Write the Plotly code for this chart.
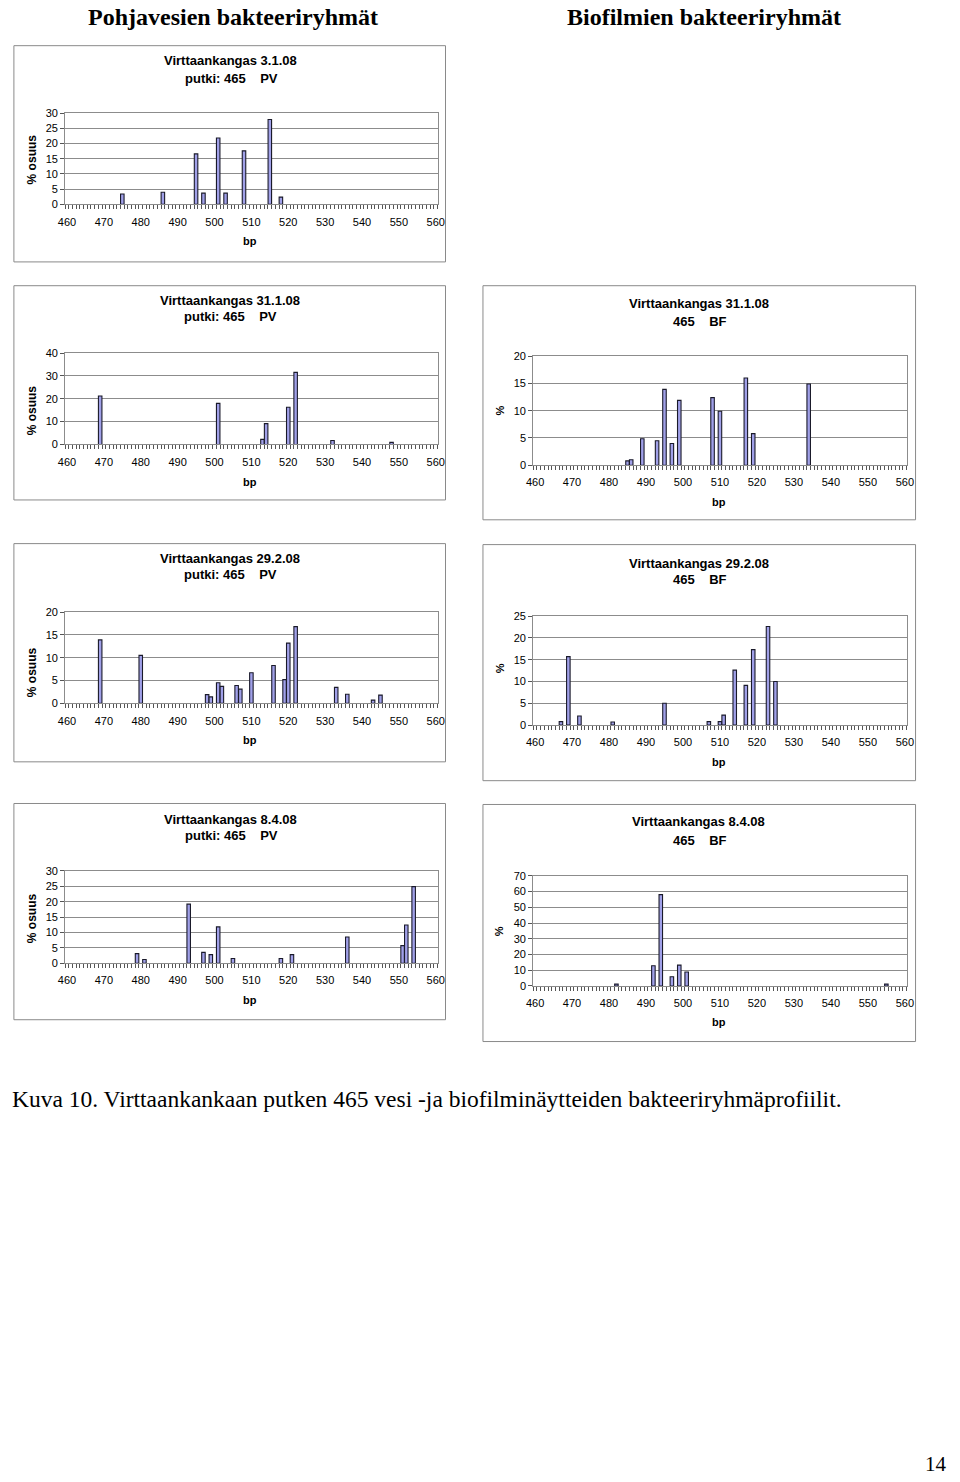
import plotly.graph_objects as go

# ---------------- data ----------------
bp_ticks = [460, 470, 480, 490, 500, 510, 520, 530, 540, 550, 560]

pv_0301_bp = [475, 486, 495, 497, 501, 503, 508, 515, 518]
pv_0301_val = [3.4, 4.0, 16.6, 3.7, 21.8, 3.7, 17.6, 27.9, 2.4]

pv_3101_bp = [469, 501, 513, 514, 520, 522, 532, 548]
pv_3101_val = [21.2, 18.0, 2.2, 9.1, 16.3, 31.6, 1.7, 0.9]

bf_3101_bp = [485, 486, 489, 493, 495, 497, 499, 508, 510, 517, 519, 534]
bf_3101_val = [0.8, 1.0, 4.85, 4.5, 13.9, 4.0, 11.9, 12.4, 9.9, 16.0, 5.8, 14.9]

pv_2902_bp = [469, 480, 498, 499, 501, 502, 506, 507, 510, 516, 519, 520, 522, 533, 536, 543, 545]
pv_2902_val = [13.9, 10.5, 1.9, 1.4, 4.5, 3.7, 3.9, 3.1, 6.7, 8.3, 5.2, 13.2, 16.8, 3.5, 2.0, 0.7, 1.8]

bf_2902_bp = [467, 469, 472, 481, 495, 507, 510, 511, 514, 517, 519, 523, 525]
bf_2902_val = [0.8, 15.7, 2.1, 0.7, 5.0, 0.8, 0.8, 2.3, 12.6, 9.1, 17.3, 22.6, 10.0]

pv_0804_bp = [479, 481, 493, 497, 499, 501, 505, 518, 521, 536, 551, 552, 554]
pv_0804_val = [3.1, 1.2, 19.2, 3.5, 2.8, 11.8, 1.5, 1.5, 2.8, 8.5, 5.7, 12.4, 24.9]

bf_0804_bp = [482, 492, 494, 497, 499, 501, 555]
bf_0804_val = [1.2, 12.9, 58.1, 5.9, 13.3, 8.9, 1.2]

titles1 = ["Virttaankangas 3.1.08", "Virttaankangas 31.1.08", "Virttaankangas 31.1.08",
           "Virttaankangas 29.2.08", "Virttaankangas 29.2.08",
           "Virttaankangas 8.4.08", "Virttaankangas 8.4.08"]
titles2 = ["putki: 465\u00a0\u00a0\u00a0\u00a0PV", "putki: 465\u00a0\u00a0\u00a0\u00a0PV", "465\u00a0\u00a0\u00a0\u00a0BF",
           "putki: 465\u00a0\u00a0\u00a0\u00a0PV", "465\u00a0\u00a0\u00a0\u00a0BF",
           "putki: 465\u00a0\u00a0\u00a0\u00a0PV", "465\u00a0\u00a0\u00a0\u00a0BF"]
ytitles = ["% osuus", "% osuus", "%", "% osuus", "%", "% osuus", "%"]
xtitle = "bp"
ymax = [30, 40, 20, 20, 25, 30, 70]
ystep = [5, 10, 5, 5, 5, 5, 10]

series = [(pv_0301_bp, pv_0301_val), (pv_3101_bp, pv_3101_val), (bf_3101_bp, bf_3101_val),
          (pv_2902_bp, pv_2902_val), (bf_2902_bp, bf_2902_val),
          (pv_0804_bp, pv_0804_val), (bf_0804_bp, bf_0804_val)]

header_left = "Pohjavesien bakteeriryhmät"
header_right = "Biofilmien bakteeriryhmät"
caption = "Kuva 10. Virttaankankaan putken 465 vesi -ja biofilminäytteiden bakteeriryhmäprofiilit."
page_no = "14"

# ---------------- layout geometry (pixels) ----------------
W, H = 960, 1482
panels = [
    dict(box=(7, 40, 445, 258), plot=(59, 108, 437, 200), tx=227, ty=(55, 73), yx=25, yy=155, bx=247, by=237),
    dict(box=(7, 282, 445, 498), plot=(59, 350, 437, 442), tx=226, ty=(297, 313), yx=25, yy=408, bx=247, by=480),
    dict(box=(483, 282, 922, 518), plot=(534, 353, 913, 463), tx=702, ty=(300, 318), yx=500, yy=408, bx=723, by=500),
    dict(box=(7, 542, 445, 762), plot=(59, 611, 437, 703), tx=226, ty=(557, 573), yx=25, yy=672, bx=247, by=740),
    dict(box=(483, 543, 922, 781), plot=(534, 615, 913, 725), tx=702, ty=(562, 578), yx=500, yy=668, bx=723, by=762),
    dict(box=(7, 804, 445, 1022), plot=(59, 872, 437, 965), tx=227, ty=(820, 836), yx=25, yy=920, bx=247, by=1002),
    dict(box=(483, 805, 922, 1044), plot=(534, 877, 913, 988), tx=702, ty=(822, 841), yx=500, yy=933, bx=723, by=1024),
]

SANS = "Arial, Liberation Sans, sans-serif"
SERIF = "Times New Roman, Liberation Serif, serif"
GRID = "#8c8c8c"
BAR_FILL = "#a0a0e8"
BAR_LINE = "#1a1a2a"


def px(x):
    return x / W


def py(y):
    return 1 - y / H


fig = go.Figure()
annotations = []
shapes = []
layout_axes = {}

for i, (p, (xs, ys)) in enumerate(zip(panels, series)):
    n = i + 1
    xa = "x" if n == 1 else f"x{n}"
    ya = "y" if n == 1 else f"y{n}"
    fig.add_trace(go.Bar(x=xs, y=ys, xaxis=xa, yaxis=ya, width=0.95,
                         marker=dict(color=BAR_FILL, line=dict(color=BAR_LINE, width=1.1)),
                         showlegend=False, hoverinfo="x+y"))
    x0, y0, x1, y1 = p["plot"]
    xkey = "xaxis" if n == 1 else f"xaxis{n}"
    ykey = "yaxis" if n == 1 else f"yaxis{n}"
    layout_axes[xkey] = dict(
        domain=[px(x0), px(x1)], anchor=ya, range=[459.5, 560.5],
        tickmode="array", tickvals=bp_ticks, ticktext=[str(t) for t in bp_ticks],
        ticks="outside", ticklen=7, tickcolor="rgba(0,0,0,0)",
        minor=dict(tickmode="linear", tick0=459.5, dtick=1, ticks="outside", ticklen=4,
                   tickcolor="#555555", showgrid=False),
        showgrid=False, zeroline=False, showline=True, linecolor=GRID, linewidth=1, mirror=True,
        tickfont=dict(family=SANS, size=11, color="#000000"), fixedrange=True,
    )
    layout_axes[ykey] = dict(
        domain=[py(y1), py(y0)], anchor=xa, range=[0, ymax[i]], tickmode="linear", tick0=0, dtick=ystep[i],
        ticks="outside", ticklen=4, tickcolor="#555555",
        showgrid=True, gridcolor=GRID, gridwidth=1, zeroline=False,
        showline=True, linecolor=GRID, linewidth=1, mirror=True,
        tickfont=dict(family=SANS, size=11, color="#000000"), fixedrange=True,
    )
    bx0, by0, bx1, by1 = p["box"]
    shapes.append(dict(type="rect", xref="paper", yref="paper", x0=px(bx0), x1=px(bx1), y0=py(by1), y1=py(by0),
                       line=dict(color="#8a8a8a", width=1), fillcolor="rgba(0,0,0,0)", layer="below"))
    annotations.append(dict(text=f"<b>{titles1[i]}</b>", x=px(p["tx"]), y=py(p["ty"][0]), xref="paper", yref="paper",
                            showarrow=False, xanchor="center", yanchor="middle",
                            font=dict(family=SANS, size=13, color="#000000")))
    annotations.append(dict(text=f"<b>{titles2[i]}</b>", x=px(p["tx"] + 1), y=py(p["ty"][1]), xref="paper", yref="paper",
                            showarrow=False, xanchor="center", yanchor="middle",
                            font=dict(family=SANS, size=13, color="#000000")))
    annotations.append(dict(text=f"<b>{ytitles[i]}</b>", x=px(p["yx"]), y=py(p["yy"]), xref="paper", yref="paper",
                            showarrow=False, xanchor="center", yanchor="middle", textangle=-90,
                            font=dict(family=SANS, size=12 if ytitles[i] != "%" else 11, color="#000000")))
    annotations.append(dict(text=f"<b>{xtitle}</b>", x=px(p["bx"]), y=py(p["by"]), xref="paper", yref="paper",
                            showarrow=False, xanchor="center", yanchor="middle",
                            font=dict(family=SANS, size=11, color="#000000")))

annotations.append(dict(text=f"<b>{header_left}</b>", x=px(229), y=py(11), xref="paper", yref="paper",
                        showarrow=False, xanchor="center", yanchor="middle",
                        font=dict(family=SERIF, size=24, color="#000000")))
annotations.append(dict(text=f"<b>{header_right}</b>", x=px(707), y=py(11), xref="paper", yref="paper",
                        showarrow=False, xanchor="center", yanchor="middle",
                        font=dict(family=SERIF, size=24, color="#000000")))
annotations.append(dict(text=caption, x=px(3), y=py(1102), xref="paper", yref="paper",
                        showarrow=False, xanchor="left", yanchor="middle",
                        font=dict(family=SERIF, size=23.5, color="#000000")))
annotations.append(dict(text=page_no, x=px(956), y=py(1470), xref="paper", yref="paper",
                        showarrow=False, xanchor="right", yanchor="middle",
                        font=dict(family=SERIF, size=21, color="#000000")))

fig.update_layout(
    width=W, height=H, margin=dict(l=0, r=0, t=0, b=0),
    paper_bgcolor="#ffffff", plot_bgcolor="#ffffff",
    showlegend=False,
    annotations=annotations, shapes=shapes, **layout_axes,
)

fig.write_html("out.html", config={"displayModeBar": False},
               post_script="document.body.style.margin='0';document.body.style.padding='0';"
                           "document.body.style.overflow='hidden';")
